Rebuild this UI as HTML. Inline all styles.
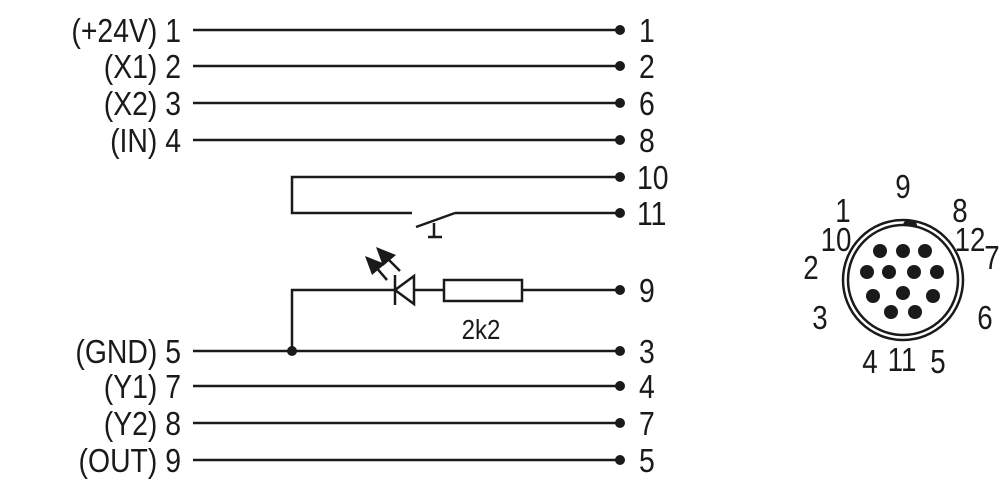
<!DOCTYPE html>
<html><head><meta charset="utf-8"><style>
html,body{margin:0;padding:0;background:#fff;}
svg{display:block}
text{font-family:"Liberation Sans",sans-serif;font-size:33px;fill:#1a1a1a;}
</style></head><body>
<svg width="1000" height="480" viewBox="0 0 1000 480" xmlns="http://www.w3.org/2000/svg">
<g stroke="#1a1a1a" stroke-width="2.5" fill="none">
<line x1="193" y1="30" x2="620" y2="30"/>
<line x1="193" y1="66" x2="620" y2="66"/>
<line x1="193" y1="103" x2="620" y2="103"/>
<line x1="193" y1="140" x2="620" y2="140"/>
<polyline points="620,177 292,177 292,213 412,213"/>
<line x1="416" y1="227" x2="455" y2="213"/>
<line x1="455" y1="213" x2="620" y2="213"/>
<line x1="434" y1="223" x2="434" y2="237"/>
<line x1="428" y1="237" x2="442" y2="237"/>
<polyline points="292,351 292,290 620,290"/>
<line x1="193" y1="351" x2="620" y2="351"/>
<line x1="193" y1="386" x2="620" y2="386"/>
<line x1="193" y1="423" x2="620" y2="423"/>
<line x1="193" y1="460" x2="620" y2="460"/>
<line x1="387" y1="280" x2="375" y2="266"/>
<line x1="400" y1="271" x2="386" y2="257"/>
<circle cx="903" cy="280" r="60"/>
<circle cx="903" cy="280" r="55"/>
</g>
<polygon points="395,290 414,276 414,304" fill="#fff" stroke="#1a1a1a" stroke-width="2.5"/>
<line x1="395" y1="275" x2="395" y2="305" stroke="#1a1a1a" stroke-width="2.5"/>
<rect x="444" y="280" width="78" height="21" fill="#fff" stroke="#1a1a1a" stroke-width="2.5"/>
<polygon points="365,256 385,264 372,275" fill="#1a1a1a"/>
<polygon points="376,247 396,255 383,266" fill="#1a1a1a"/>
<g fill="#1a1a1a">
<circle cx="620" cy="30" r="5"/><circle cx="620" cy="66" r="5"/><circle cx="620" cy="103" r="5"/><circle cx="620" cy="140" r="5"/>
<circle cx="620" cy="177" r="5"/><circle cx="620" cy="213" r="5"/><circle cx="620" cy="290" r="5"/><circle cx="620" cy="351" r="5"/>
<circle cx="620" cy="386" r="5"/><circle cx="620" cy="423" r="5"/><circle cx="620" cy="460" r="5"/>
<circle cx="292" cy="351" r="5"/>
<circle cx="880" cy="251" r="7"/><circle cx="903" cy="251" r="7"/><circle cx="925" cy="251" r="7"/>
<circle cx="867" cy="272" r="7"/><circle cx="889" cy="272" r="7"/><circle cx="914" cy="272" r="7"/><circle cx="937" cy="272" r="7"/>
<circle cx="873" cy="296" r="7"/><circle cx="903" cy="293" r="7"/><circle cx="933" cy="296" r="7"/>
<circle cx="891" cy="312" r="7"/><circle cx="915" cy="312" r="7"/>
<path d="M903,225 a7,6 0 0 1 14,1 z"/>
</g>
<g text-anchor="end">
<text transform="translate(181,42) scale(0.86,1)">(+24V) 1</text>
<text transform="translate(181,78) scale(0.86,1)">(X1) 2</text>
<text transform="translate(181,115) scale(0.86,1)">(X2) 3</text>
<text transform="translate(181,152) scale(0.86,1)">(IN) 4</text>
<text transform="translate(181,363) scale(0.86,1)">(GND) 5</text>
<text transform="translate(181,398) scale(0.86,1)">(Y1) 7</text>
<text transform="translate(181,435) scale(0.86,1)">(Y2) 8</text>
<text transform="translate(181,472) scale(0.86,1)">(OUT) 9</text>
</g>
<g>
<text transform="translate(639,42) scale(0.86,1)">1</text>
<text transform="translate(639,78) scale(0.86,1)">2</text>
<text transform="translate(639,115) scale(0.86,1)">6</text>
<text transform="translate(639,152) scale(0.86,1)">8</text>
<text transform="translate(637,189) scale(0.86,1)">10</text>
<text transform="translate(637,225) scale(0.86,1)">11</text>
<text transform="translate(639,302) scale(0.86,1)">9</text>
<text transform="translate(639,363) scale(0.86,1)">3</text>
<text transform="translate(639,398) scale(0.86,1)">4</text>
<text transform="translate(639,435) scale(0.86,1)">7</text>
<text transform="translate(639,472) scale(0.86,1)">5</text>
</g>
<text text-anchor="middle" style="font-size:28px" transform="translate(481,339) scale(0.86,1)">2k2</text>
<g text-anchor="middle" style="font-size:31px">
<text transform="translate(903,198) scale(0.84,1)">9</text>
<text transform="translate(843,222) scale(0.84,1)">1</text>
<text transform="translate(960,222) scale(0.84,1)">8</text>
<text transform="translate(836,251) scale(0.84,1)">10</text>
<text transform="translate(970,251) scale(0.84,1)">12</text>
<text transform="translate(992,269) scale(0.84,1)">7</text>
<text transform="translate(811,279) scale(0.84,1)">2</text>
<text transform="translate(820,329) scale(0.84,1)">3</text>
<text transform="translate(985,329) scale(0.84,1)">6</text>
<text transform="translate(870,373) scale(0.84,1)">4</text>
<text transform="translate(902,371) scale(0.84,1)">11</text>
<text transform="translate(938,373) scale(0.84,1)">5</text>
</g>
</svg>
</body></html>
